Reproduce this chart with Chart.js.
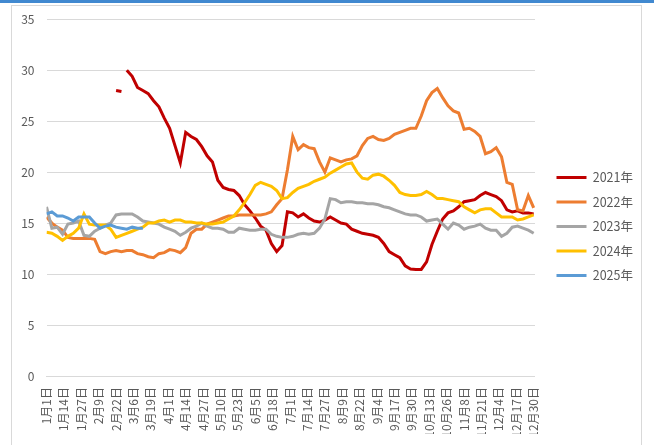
<!DOCTYPE html>
<html>
<head>
<meta charset="utf-8">
<script src="https://cdn.jsdelivr.net/npm/chart.js@4"></script>
<style>
  html, body { margin: 0; padding: 0; background: #fff; }
  #wrap { position: relative; width: 654px; height: 445px; overflow: hidden; }
  #topBar { position: absolute; left: 0; top: 0; width: 654px; height: 3px; background: #4189d0; }
  #frame { position: absolute; left: 11px; top: 5px; width: 629px; height: 470px; border: 1px solid #d9d9d9; }
  #priceChart { position: absolute; left: 0; top: 0; }
</style>
</head>
<body>
<div id="wrap">
  <div id="topBar"></div>
  <div id="frame"></div>
  <canvas id="priceChart" width="654" height="445"></canvas>
</div>
<script>
// one value every 4 days (day 0 = 1月1日)
const sampleStep = 4;

const years = ["2021年", "2022年", "2023年", "2024年", "2025年"];
const lineColors = ["#C00000", "#ED7D31", "#A5A5A5", "#FFC000", "#5B9BD5"];

const v2021 = [
  null, null, null, null, null, null, null, null, null, null,
  null, null, null, 28.0, 27.9, 30.0, 29.4, 28.3, 28.0, 27.7,
  27.0, 26.4, 25.3, 24.3, 22.6, 20.9, 23.9, 23.5, 23.2, 22.5,
  21.6, 21.0, 19.2, 18.5, 18.3, 18.2, 17.7, 16.8, 16.2, 15.5,
  14.7, 14.3, 13.0, 12.2, 12.8, 16.1, 16.0, 15.6, 15.9, 15.5,
  15.2, 15.1, 15.3, 15.6, 15.3, 15.0, 14.9, 14.4, 14.2, 14.0,
  13.9, 13.8, 13.6, 13.0, 12.2, 11.9, 11.6, 10.8, 10.5, 10.45,
  10.45, 11.2, 12.9, 14.2, 15.4, 16.0, 16.2, 16.6, 17.1, 17.2,
  17.3, 17.7, 18.0, 17.8, 17.6, 17.2, 16.3, 16.1, 16.2, 16.0,
  16.0, 15.9
];
// 2021 line is broken between the two late-February pieces
const gaps2021 = [58];

const v2022 = [
  15.6, 15.0, 14.6, 14.3, 13.6, 13.5, 13.5, 13.5, 13.5, 13.4,
  12.2, 12.0, 12.2, 12.3, 12.2, 12.3, 12.3, 12.0, 11.9, 11.7,
  11.6, 12.0, 12.1, 12.4, 12.3, 12.1, 12.6, 14.0, 14.4, 14.4,
  14.9, 15.1, 15.3, 15.5, 15.7, 15.7, 15.8, 15.8, 15.8, 15.8,
  15.8, 15.9, 16.1, 16.8, 17.4, 20.2, 23.5, 22.2, 22.7, 22.4,
  22.3, 21.0, 20.0, 21.4, 21.2, 21.0, 21.2, 21.3, 21.6, 22.6,
  23.3, 23.5, 23.2, 23.1, 23.3, 23.7, 23.9, 24.1, 24.3, 24.3,
  25.5, 27.0, 27.8, 28.2, 27.3, 26.5, 26.0, 25.8, 24.2, 24.3,
  24.0, 23.5, 21.8, 22.0, 22.4, 21.5, 19.0, 18.8, 16.3, 16.2,
  17.7, 16.5
];

const v2023 = [
  16.6, 14.5, 14.6, 13.9, 14.9, 15.0, 15.2, 13.8, 13.7, 14.2,
  14.5, 14.8, 15.0, 15.8, 15.9, 15.9, 15.9, 15.6, 15.2, 15.1,
  15.0, 14.9, 14.6, 14.4, 14.2, 13.8, 14.1, 14.5, 14.7, 15.0,
  14.7, 14.5, 14.5, 14.4, 14.1, 14.1, 14.5, 14.4, 14.3, 14.3,
  14.4, 14.4, 13.9, 13.7, 13.6, 13.6, 13.7, 13.9, 14.0, 13.9,
  14.0, 14.5, 15.4, 17.4, 17.3, 17.0, 17.1, 17.1, 17.0, 17.0,
  16.9, 16.9, 16.8, 16.6, 16.5, 16.3, 16.1, 15.9, 15.8, 15.8,
  15.6, 15.2, 15.3, 15.4, 14.9, 14.4, 15.0, 14.8, 14.4, 14.6,
  14.7, 14.9, 14.5, 14.3, 14.3, 13.7, 14.0, 14.6, 14.7, 14.5,
  14.3, 14.0
];

const v2024 = [
  14.1, 14.0, 13.7, 13.3, 13.7, 14.0, 14.5, 15.9, 14.9, 14.8,
  14.8, 14.8, 14.4, 13.6, 13.8, 14.0, 14.2, 14.4, 14.6, 15.0,
  15.0, 15.2, 15.3, 15.1, 15.3, 15.3, 15.1, 15.1, 15.0, 15.0,
  14.9, 14.9, 15.0, 15.1, 15.4, 15.7, 16.3, 17.0, 17.8, 18.7,
  19.0, 18.8, 18.6, 18.2, 17.4, 17.5, 18.0, 18.4, 18.6, 18.8,
  19.1, 19.3, 19.5, 19.9, 20.2, 20.5, 20.8, 20.9, 20.0, 19.4,
  19.3, 19.7, 19.8, 19.6, 19.2, 18.7, 18.0, 17.8, 17.7, 17.7,
  17.8, 18.1, 17.8, 17.4, 17.4, 17.3, 17.2, 17.1, 16.6, 16.3,
  16.0, 16.3, 16.4, 16.4, 16.0, 15.6, 15.6, 15.6, 15.3, 15.4,
  15.6, 15.8
];

const v2025 = [
  15.9, 16.1, 15.7, 15.7, 15.5, 15.2, 15.6, 15.6, 15.6, 15.0,
  14.5, 14.7, 14.8, 14.6, 14.5, 14.4, 14.6, 14.5, 14.5
];

const seriesValues = [v2021, v2022, v2023, v2024, v2025];
const seriesGaps = [gaps2021, [], [], [], []];

// x tick labels: every 13th day of a 366-day year
const dayLabels = [];
for (let d = 0; d < 366; d++) {
  const dt = new Date(2024, 0, 1 + d);
  dayLabels.push((dt.getMonth() + 1) + "月" + dt.getDate() + "日");
}
const tickDays = [];
for (let d = 0; d <= 364; d += 13) tickDays.push(d);

const fontFamily = "'Noto Sans CJK SC', 'Noto Sans', sans-serif";
const textColor = "#595959";
const gridColor = "#d9d9d9";

function toPoints(values, gaps) {
  const pts = values.map((v, k) => ({ x: k * sampleStep, y: v }));
  gaps.forEach((d) => pts.push({ x: d, y: null }));
  return pts.sort((a, b) => a.x - b.x);
}

const datasets = years.map((name, i) => ({
  label: name,
  data: toPoints(seriesValues[i], seriesGaps[i]),
  borderColor: lineColors[i],
  backgroundColor: lineColors[i],
  borderWidth: 3,
  pointRadius: 0,
  pointHoverRadius: 0,
  tension: 0,
  fill: false,
  spanGaps: false,
  order: years.length - 1 - i,
}));

new Chart(document.getElementById("priceChart"), {
  type: "line",
  data: { datasets: datasets },
  options: {
    responsive: false,
    animation: false,
    devicePixelRatio: 1,
    layout: { padding: { left: 10.5, top: 19, right: 11, bottom: 11 } },
    scales: {
      x: {
        type: "linear",
        min: 0,
        max: 365,
        grid: { display: false, drawTicks: false },
        border: { display: true, color: gridColor, width: 1 },
        afterBuildTicks: (axis) => {
          axis.ticks = tickDays.map((d) => ({ value: d }));
        },
        afterFit: (axis) => {
          axis.height = 58;
        },
        ticks: {
          autoSkip: false,
          maxRotation: 90,
          minRotation: 90,
          padding: 11,
          color: textColor,
          font: { family: fontFamily, size: 12 },
          callback: (value) => dayLabels[value],
        },
      },
      y: {
        position: "left",
        min: 0,
        max: 35,
        grid: { color: gridColor, lineWidth: 1, drawTicks: false },
        border: { display: false },
        afterFit: (axis) => {
          axis.width = 36;
        },
        ticks: {
          stepSize: 5,
          padding: 12,
          color: textColor,
          font: { family: fontFamily, size: 12 },
        },
      },
      // empty strip between the plot and the legend
      gapRight: {
        type: "linear",
        position: "right",
        display: true,
        grid: { display: false, drawTicks: false },
        border: { display: false },
        ticks: { display: false },
        afterFit: (axis) => {
          axis.width = 9.5;
        },
      },
    },
    plugins: {
      legend: {
        position: "right",
        labels: {
          usePointStyle: true,
          pointStyle: "line",
          pointStyleWidth: 30,
          padding: 12,
          color: textColor,
          font: { family: fontFamily, size: 12.5 },
          sort: (a, b) => a.datasetIndex - b.datasetIndex,
        },
      },
      tooltip: { enabled: false },
    },
  },
});
</script>
</body>
</html>
